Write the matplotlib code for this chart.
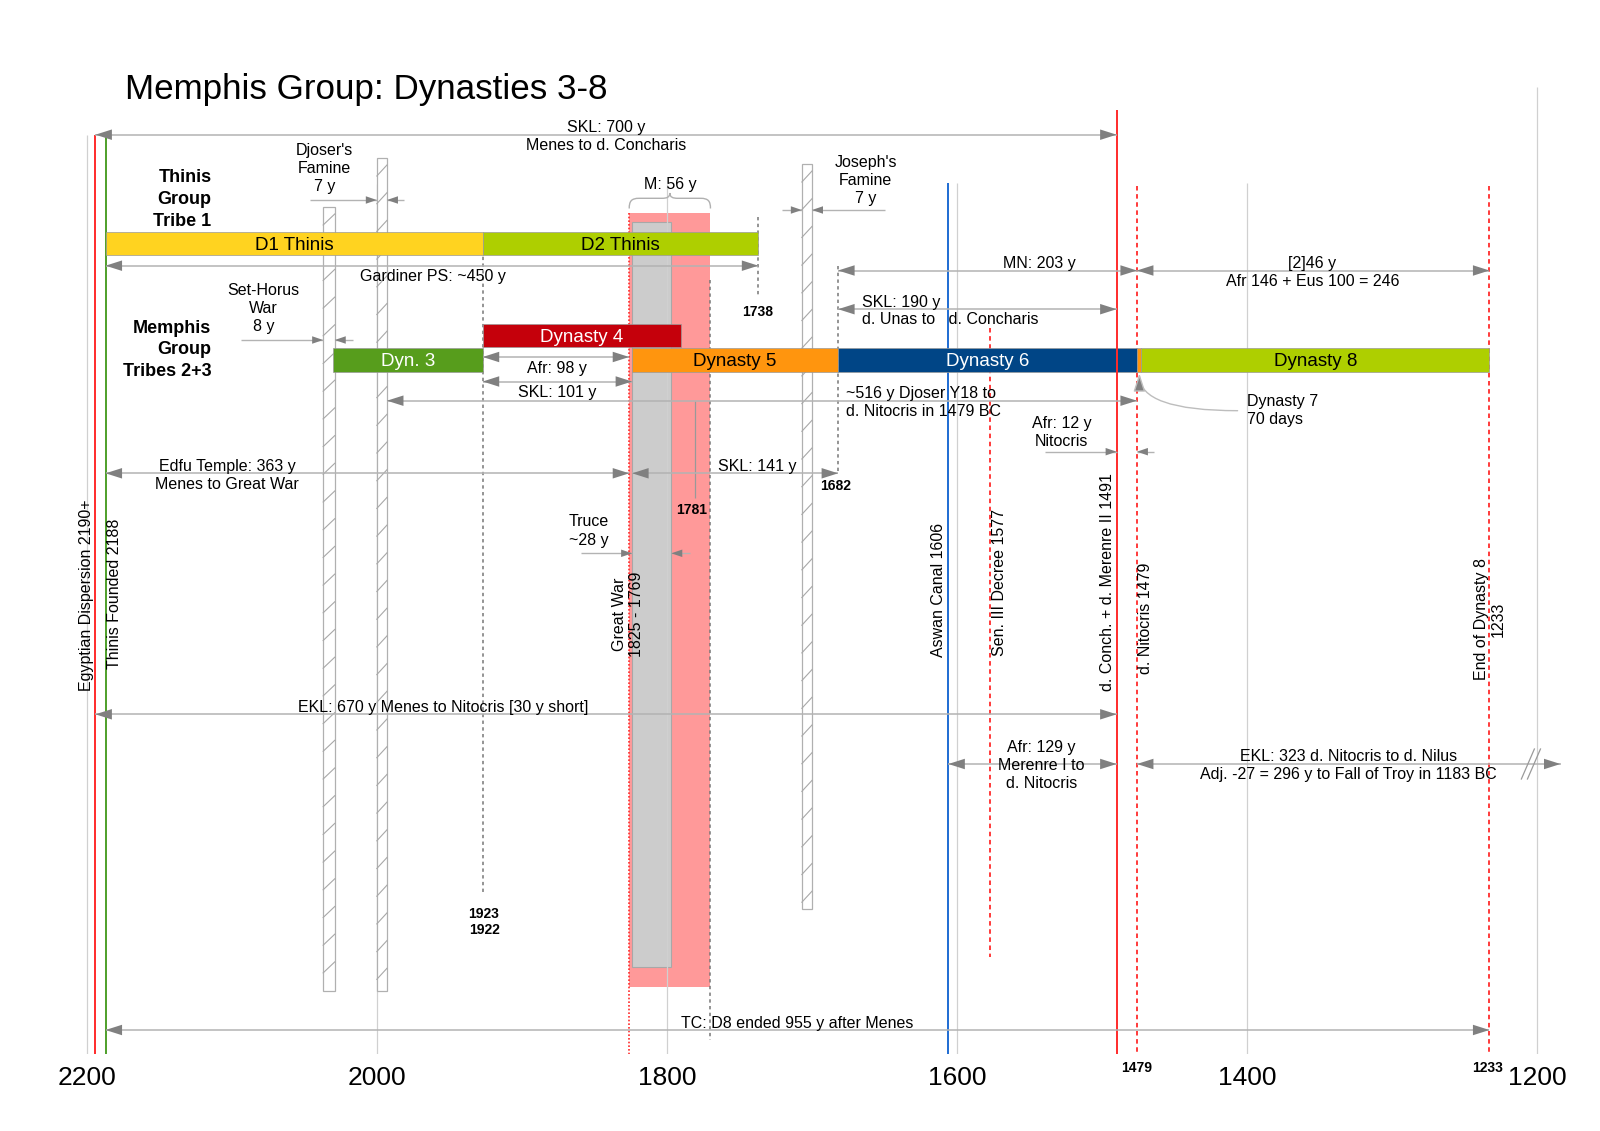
import numpy as np
import matplotlib
matplotlib.use('Agg')
import matplotlib.pyplot as plt
from matplotlib.patches import Polygon, PathPatch
from matplotlib.path import Path

plt.rcParams['font.family'] = ['Liberation Sans', 'DejaVu Sans']

# ---------------- data (years BC) ----------------
tick_years = [2200, 2000, 1800, 1600, 1400, 1200]

dyn_names = ['D1 Thinis', 'D2 Thinis', 'Dynasty 4', 'Dyn. 3', 'Dynasty 5', 'Dynasty 6', '', 'Dynasty 8']
dyn_start = [2187, 1927, 1927, 2030, 1824, 1682, 1476, 1473]
dyn_end = [1927, 1737, 1790, 1927, 1682, 1476, 1473, 1233]
dyn_row = [0, 0, 1, 2, 2, 2, 2, 2]
dyn_colors = ['#FFD320', '#AECF00', '#C5000B', '#579D1C', '#FF950E', '#004586', '#FF950E', '#AECF00']
dyn_text_colors = ['black', 'black', 'white', 'white', 'black', 'white', 'black', 'black']

famine_start = [2037, 2000, 1707]   # Set-Horus War, Djoser's Famine, Joseph's Famine
famine_end = [2029, 1993, 1700]

great_war = (1826, 1770)
truce = (1824, 1797)

event_years = [2194, 2187, 1606, 1577, 1490, 1476, 1233]
event_labels = ['Egyptian Dispersion 2190+', 'Thinis Founded 2188', 'Aswan Canal 1606',
                'Sen. III Decree 1577', 'd. Conch. + d. Merenre II 1491', 'd. Nitocris 1479',
                'End of Dynasty 8\n1233']

# spans: (label, left year, right year)
span_labels = ['SKL: 700 y\nMenes to d. Concharis', 'Gardiner PS: ~450 y', 'MN: 203 y',
               '[2]46 y\nAfr 146 + Eus 100 = 246', 'SKL: 190 y\nd. Unas to   d. Concharis',
               'Afr: 98 y', 'SKL: 101 y', '~516 y Djoser Y18 to\nd. Nitocris in 1479 BC',
               'Edfu Temple: 363 y\nMenes to Great War', 'SKL: 141 y',
               'EKL: 670 y Menes to Nitocris [30 y short]', 'Afr: 129 y\nMerenre I to\nd. Nitocris',
               'EKL: 323 d. Nitocris to d. Nilus\nAdj. -27 = 296 y to Fall of Troy in 1183 BC',
               'TC: D8 ended 955 y after Menes']
span_left = [2194, 2187, 1682, 1476, 1682, 1927, 1927, 1993, 2187, 1824, 2194, 1606, 1476, 2187]
span_right = [1490, 1737, 1476, 1233, 1490, 1826, 1824, 1476, 1826, 1682, 1490, 1490, 1184, 1233]

# ---------------- layout (pixels) ----------------
PX = 1.4506  # pixels per year


def off(year, px):
    """shift a year position px pixels to the right"""
    return year - px / PX


W_FIG, H_FIG = 1600, 1131
fig = plt.figure(figsize=(16, 11.31), dpi=100)
AX_BOTTOM = 1054
ax = fig.add_axes([0, (H_FIG - AX_BOTTOM) / H_FIG, 1, AX_BOTTOM / H_FIG])
ax.set_xlim(2200 + 86.7 / PX, 2200 - (W_FIG - 86.7) / PX)
ax.set_ylim(AX_BOTTOM, 0)
for s in ax.spines.values():
    s.set_visible(False)
ax.set_yticks([])
ax.set_xticks(tick_years)
ax.set_xticklabels([str(t) for t in tick_years])
ax.tick_params(axis='x', length=0, pad=8.5, labelsize=19)

LINE = '#b3b3b3'
HEAD = '#808080'
DASH = '#777777'
GRID = '#d0d0d0'
RED = '#FF2B2B'
FS = 11.5
LS = 1.25
TY = 1.8  # small downward text nudge (px)

fig.text(124.5 / W_FIG, 1 - 90 / H_FIG, 'Memphis Group: Dynasties 3-8', fontsize=25.2,
         ha='left', va='center')

# gridlines
grid_tops = [135, 184, 184, 183, 183, 87]
for yr, top in zip(tick_years, grid_tops):
    ax.vlines(yr, top, AX_BOTTOM, color=GRID, lw=0.9, zorder=2.5)

# Great war / truce rectangles
ax.bar(great_war[1], 987 - 213, width=great_war[0] - great_war[1], bottom=213, align='edge',
       color='#FF9999', edgecolor='none', zorder=1)
ax.bar(truce[1], 967 - 222, width=truce[0] - truce[1], bottom=222, align='edge',
       color='#CCCCCC', edgecolor='#A8A8A8', lw=0.8, zorder=2)
ax.vlines(great_war[0], 213, AX_BOTTOM, color=RED, lw=1.2, linestyles=(0, (1, 1.2)), zorder=3)

# grey dashed marker lines
for yr, y0, y1 in [(1927, 250, 892), (great_war[1], 280, 1040), (1737, 217, 297), (1682, 266, 473)]:
    ax.vlines(yr, y0, y1, color=DASH, lw=1.1, linestyles=(0, (2.2, 2.2)), zorder=3)
ax.vlines(1781, 401, 498, color='#999999', lw=0.9, zorder=3)

# hatched famine / war bars
fam_top = [207, 158, 164]
fam_bot = [991, 991, 909]
for xs, xe, t, b in zip(famine_start, famine_end, fam_top, fam_bot):
    ax.bar(xe, b - t, width=xs - xe, bottom=t, align='edge', color='white',
           edgecolor='#b0b0b0', lw=0.9, zorder=3)
    for yy in np.arange(t + 18, b, 27.7):
        ax.plot([xs, xe], [yy, yy - 11], color='#a8a8a8', lw=0.8, zorder=3.1)

# event lines
ev_style = [
    dict(color=RED, lw=1.4, ls='-', top=135, z=4),
    dict(color='#4E9F2A', lw=1.4, ls='-', top=136, z=4),
    dict(color='#1E6BD2', lw=1.4, ls='-', top=183, z=4),
    dict(color=RED, lw=1.3, ls=(0, (2.5, 2)), top=328, bot=957, z=4),
    dict(color=RED, lw=1.4, ls='-', top=110, z=6),
    dict(color=RED, lw=1.3, ls=(0, (2.5, 2)), top=186, z=4),
    dict(color=RED, lw=1.3, ls=(0, (2.5, 2)), top=186, z=4),
]
for yr, st in zip(event_years, ev_style):
    ax.vlines(yr, st['top'], st.get('bot', AX_BOTTOM), color=st['color'], lw=st['lw'],
              linestyles=st['ls'], zorder=st['z'])

# dynasty bars
row_y = [243.5, 335.7, 360.0]
BAR_H = 23.4
for name, s, e, r, c, tc in zip(dyn_names, dyn_start, dyn_end, dyn_row, dyn_colors, dyn_text_colors):
    ax.barh(row_y[r], s - e, left=e, height=BAR_H, color=c, edgecolor='#9a9a9a', lw=0.5, zorder=5)
    if name:
        ax.text((s + e) / 2, row_y[r] + 1.5, name, ha='center', va='center', fontsize=13.5,
                color=tc, zorder=6)


# arrows
def head(x, y, direction, L=16.5, W=10.5):
    base = off(x, -direction * L)
    ax.add_patch(Polygon([(x, y), (base, y - W / 2), (base, y + W / 2)], closed=True,
                         facecolor=HEAD, edgecolor='none', zorder=8))


def span(y, xl, xr):
    ax.hlines(y, xl, xr, color=LINE, lw=1.1, zorder=7)
    head(xl, y, -1)
    head(xr, y, +1)


def outside(y, xl, xr, tail_l, tail_r):
    ax.hlines(y, off(xl, -tail_l), xl, color=LINE, lw=1.0, zorder=7)
    head(xl, y, +1, 11, 7.5)
    ax.hlines(y, xr, off(xr, tail_r), color=LINE, lw=1.0, zorder=7)
    head(xr, y, -1, 11, 7.5)


def label(x, y, s, ha='center', **kw):
    kw.setdefault('fontsize', FS)
    kw.setdefault('linespacing', LS)
    ax.text(x, y + TY, s, ha=ha, va='center', multialignment=ha, zorder=9, **kw)


span_y = [134.7, 265.7, 270.5, 270.5, 309.2, 357.0, 381.5, 400.7, 473.3, 473.3, 714.3, 764, 764, 1030]
for y, l, r in zip(span_y, span_left, span_right):
    span(y, l, r)

# label positions: (x year, y px, ha)
span_text_pos = [(1842, 134.7, 'center'), (1961.5, 274.3, 'center'), (1543, 261.7, 'center'),
                 (1355, 271, 'center'), (1665.2, 309.2, 'left'), (1876, 366.7, 'center'),
                 (1876, 390.7, 'center'), (1676.6, 400.8, 'left'), (2103.2, 473.3, 'center'),
                 (1738, 464.3, 'center'), (1954, 706, 'center'), (1542, 764, 'center'),
                 (1330, 764, 'center'), (1710.4, 1021.5, 'center')]
for lab, (x, y, ha) in zip(span_labels, span_text_pos):
    label(x, y, lab, ha)

# width markers (famines, war, Nitocris, truce)
outside(340, famine_start[0], famine_end[0], 82, 18)
outside(200, famine_start[1], famine_end[1], 67, 17.5)
outside(210, famine_start[2], famine_end[2], 19.6, 72.6)
outside(451.7, 1490, 1476, 72, 17.5)
outside(553.3, truce[0], truce[1], 51, 19)

label(2078, 307, 'Set-Horus\nWar\n8 y')
label(2036, 166.3, "Djoser's\nFamine\n7 y")
label(1663, 179, "Joseph's\nFamine\n7 y")
label(1527.8, 430.5, 'Afr: 12 y\nNitocris')
label(1854, 529.2, 'Truce\n~28 y')
label(1797.6, 182.7, 'M: 56 y')

# brace over the Great War
x1, x2 = great_war
xm = (x1 + x2) / 2
yb, yh, yp = 208.5, 198.3, 193
verts = [(x1, yb), (x1, yh + 3), (off(x1, 2), yh), (off(x1, 10), yh), (off(xm, -8), yh),
         (off(xm, -3), yh), (xm, yh - 1), (xm, yp), (xm, yh - 1), (off(xm, 3), yh), (off(xm, 8), yh),
         (off(x2, -10), yh), (off(x2, -2), yh), (x2, yh + 3), (x2, yb)]
codes = [Path.MOVETO, Path.CURVE4, Path.CURVE4, Path.CURVE4, Path.LINETO,
         Path.CURVE4, Path.CURVE4, Path.CURVE4, Path.CURVE4, Path.CURVE4, Path.CURVE4,
         Path.LINETO, Path.CURVE4, Path.CURVE4, Path.CURVE4]
ax.add_patch(PathPatch(Path(verts, codes), facecolor='none', edgecolor='#b0b0b0', lw=1.0, zorder=7))

# Dynasty 7 callout
ax.annotate('', xy=(1474.3, 373.5), xytext=(1406.6, 410.7),
            arrowprops=dict(arrowstyle='-|>,head_length=0.55,head_width=0.18', mutation_scale=20,
                            connectionstyle='angle3,angleA=0,angleB=90', ec='#bdbdbd', fc=HEAD,
                            lw=1.0, shrinkA=0, shrinkB=0), zorder=8)
label(1400, 409, 'Dynasty 7\n70 days', 'left')

# break marks on the EKL 323 arrow
for cx in [1206.5, 1202.3]:
    ax.plot([off(cx, -6.5), off(cx, 6.5)], [779, 749], color='#9a9a9a', lw=0.9, zorder=9)

# group labels
ax.text(2114, 199.5, 'Thinis\nGroup\nTribe 1', ha='right', va='center', multialignment='right',
        fontsize=13, fontweight='bold', linespacing=1.36, zorder=9)
ax.text(2114, 350, 'Memphis\nGroup\nTribes 2+3', ha='right', va='center', multialignment='right',
        fontsize=13, fontweight='bold', linespacing=1.36, zorder=9)

# small bold year labels
for x, y, t in [(1737.3, 310.7, '1738'), (1684.1, 485, '1682'), (1783.1, 509.3, '1781'),
                (1926.1, 920.7, '1923\n1922'), (1476.2, 1067, '1479'), (1234.2, 1067, '1233')]:
    ax.text(x, y + 1, t, ha='center', va='center', fontsize=10, fontweight='bold', linespacing=1.2, zorder=9)

# rotated labels
rot_pos = [(2199.9, 595), (2180.8, 594.3), (1612.7, 590), (1570.9, 582.5), (1496.0, 582.5),
           (1470.2, 618), (1233, 619)]
for lab, (x, y) in zip(event_labels, rot_pos):
    ax.text(x, y, lab, rotation=90, ha='center', va='center', multialignment='center',
            fontsize=FS, linespacing=1.15, zorder=9)
ax.text(1826.8, 614, 'Great War\n1825 - 1769', rotation=90, ha='center', va='center',
        multialignment='center', fontsize=FS, linespacing=1.15, zorder=9)

fig.savefig('out.png', dpi=100, facecolor='white')
